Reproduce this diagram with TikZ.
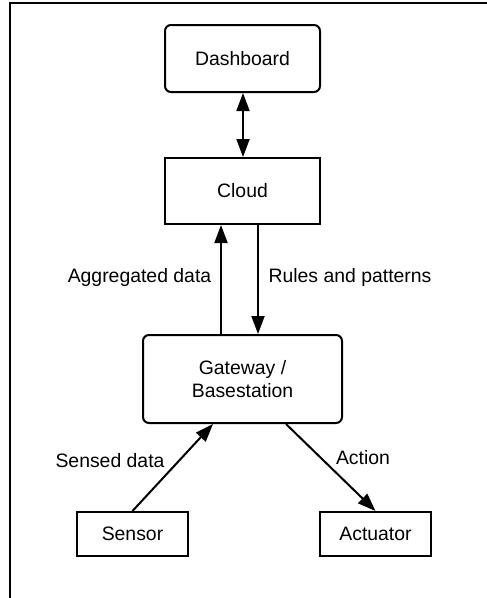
\documentclass[tikz,border=0pt]{standalone}
\usepackage{fontspec}
\setmainfont{Liberation Sans}
\usetikzlibrary{arrows.meta,calc}
\begin{document}
\begin{tikzpicture}[x=1pt,y=-1pt,
  line width=2pt,
  every node/.style={font=\fontsize{19.4}{23.5}\selectfont},
  roundbox/.style={draw,rounded corners=6pt,align=center,inner sep=0pt},
  sqbox/.style={draw,align=center,inner sep=0pt},
  conn/.style={-{Triangle[length=18pt,width=13pt]}},
  biconn/.style={{Triangle[length=18pt,width=13pt]}-{Triangle[length=18pt,width=13pt]}},
  lbl/.style={inner sep=0pt}
]
\useasboundingbox (0,0) rectangle (487,598);

% frame along the top and the left side
\draw (10,598) -- (10,3) -- (487,3);

% boxes
\node[roundbox,minimum width=155pt,minimum height=67pt] (dash) at (242.5,58.5) {Dashboard};
\node[sqbox,minimum width=155pt,minimum height=66pt] (cloud) at (242.5,191) {Cloud};
\node[roundbox,minimum width=199pt,minimum height=88pt] (gw) at (242.5,379) {Gateway /\\Basestation};
\node[sqbox,minimum width=111pt,minimum height=44pt] (sensor) at (132.5,534) {Sensor};
\node[sqbox,minimum width=111pt,minimum height=44pt] (act) at (375.5,534) {Actuator};

% connectors
\draw[biconn] ([xshift=0.5pt]dash.south) -- ([xshift=0.5pt]cloud.north);
\draw[conn] ([xshift=-21.5pt]gw.north) -- ([xshift=-21.5pt]cloud.south);
\draw[conn] ([xshift=15.5pt]cloud.south) -- ([xshift=15.5pt]gw.north);
\draw[conn] (sensor.north) -- ([xshift=-29.5pt]gw.south);
\draw[conn] ([xshift=43.5pt]gw.south) -- (act.north);

% labels
\node[lbl] (lagg) at (139.5,277) {Aggregated data};
\node[lbl] (lrules) at (350,277) {Rules and patterns};
\node[lbl] (lsensed) at (110,461) {Sensed data};
\node[lbl] (laction) at (363,458) {Action};
\end{tikzpicture}
\end{document}
